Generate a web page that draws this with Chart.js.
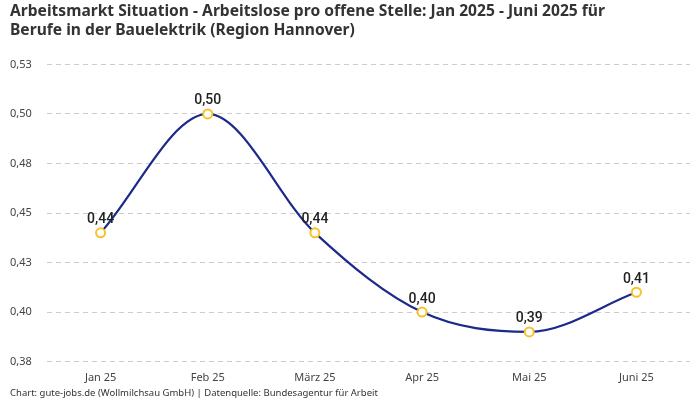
<!DOCTYPE html>
<html>
<head>
<meta charset="utf-8">
<script src="https://cdn.jsdelivr.net/npm/chart.js@4.4.1/dist/chart.umd.min.js"></script>
<style>
  html, body { margin: 0; padding: 0; background: #fff; }
  .wrap { width: 700px; height: 400px; }
</style>
</head>
<body>
<div class="wrap"><canvas id="chart"></canvas></div>
<script>
const months = ["Jan 25", "Feb 25", "März 25", "Apr 25", "Mai 25", "Juni 25"];
const ratio = [0.44, 0.50, 0.44, 0.40, 0.39, 0.41];
const yMin = 0.375;
const yMax = 0.525;
const yStep = 0.025;

// 0.425 -> "0,43" (avoid float rounding down)
const fmt = (v) => (Math.round(v * 100 + 1e-6) / 100).toFixed(2).replace(".", ",");

// draws the value above each point
const valueLabels = {
  id: "valueLabels",
  afterDatasetsDraw(chart) {
    const ctx = chart.ctx;
    const meta = chart.getDatasetMeta(0);
    ctx.save();
    ctx.font = "500 14px Roboto, sans-serif";
    ctx.fillStyle = "#222";
    ctx.textAlign = "center";
    ctx.textBaseline = "bottom";
    meta.data.forEach((pt, i) => {
      ctx.fillText(fmt(ratio[i]), pt.x, pt.y - 6);
    });
    ctx.restore();
  },
};

new Chart(document.getElementById("chart"), {
  type: "line",
  data: {
    labels: months,
    datasets: [
      {
        data: ratio,
        borderColor: "#1b2a8c",
        borderWidth: 2.2,
        fill: false,
        cubicInterpolationMode: "monotone",
        pointRadius: 4.5,
        pointBorderWidth: 2,
        pointBackgroundColor: "#fff",
        pointBorderColor: "#f7c22b",
      },
    ],
  },
  options: {
    responsive: true,
    maintainAspectRatio: false,
    animation: false,
    layout: { padding: { left: 10, right: 10, top: 0, bottom: 1 } },
    plugins: {
      legend: { display: false },
      tooltip: { enabled: false },
      title: {
        display: true,
        align: "start",
        text: [
          "Arbeitsmarkt Situation - Arbeitslose pro offene Stelle: Jan 2025 - Juni 2025 für",
          "Berufe in der Bauelektrik (Region Hannover)",
        ],
        color: "#333",
        font: { family: "'Noto Sans', sans-serif", size: 15.6, weight: "bold", lineHeight: 1.2 },
        padding: { top: 2, bottom: 25 },
      },
      subtitle: {
        display: true,
        position: "bottom",
        align: "start",
        text: "Chart: gute-jobs.de (Wollmilchsau GmbH) | Datenquelle: Bundesagentur für Arbeit",
        color: "#333",
        font: { family: "'Noto Sans', sans-serif", size: 9.5 },
        padding: { top: 4, bottom: 0 },
      },
    },
    scales: {
      x: {
        offset: true,
        afterFit: (scale) => { scale.height = 22; },
        grid: { display: false, drawTicks: false },
        border: { display: false },
        ticks: {
          color: "#444",
          font: { family: "'Noto Sans', sans-serif", size: 11 },
          padding: 10,
        },
      },
      y: {
        min: yMin,
        max: yMax,
        afterFit: (scale) => { scale.width = 37; },
        grid: { color: "#cccccc", drawTicks: false },
        border: { display: false, dash: [5, 4] },
        ticks: {
          stepSize: yStep,
          crossAlign: "far",
          color: "#444",
          font: { family: "'Noto Sans', sans-serif", size: 11 },
          padding: 14,
          callback: (v) => fmt(v),
        },
      },
    },
  },
  plugins: [valueLabels],
});
</script>
</body>
</html>
